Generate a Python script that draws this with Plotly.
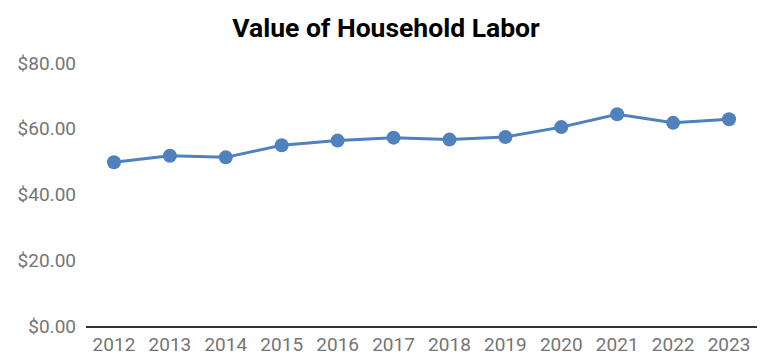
import plotly.graph_objects as go

years = ["2012", "2013", "2014", "2015", "2016", "2017", "2018", "2019", "2020", "2021", "2022", "2023"]
values = [49.8, 51.8, 51.3, 55.0, 56.4, 57.3, 56.7, 57.5, 60.5, 64.4, 61.8, 62.9]
y_ticks = [0, 20, 40, 60, 80]
y_tick_labels = ["$0.00", "$20.00", "$40.00", "$60.00", "$80.00"]

color = "#4f81bd"

fig = go.Figure(
    go.Scatter(
        x=years,
        y=values,
        mode="lines+markers",
        line=dict(color=color, width=3),
        marker=dict(color=color, size=14),
        hoverinfo="skip",
    )
)

fig.update_layout(
    width=763,
    height=362,
    margin=dict(l=86, r=6, t=63, b=36),
    paper_bgcolor="white",
    plot_bgcolor="white",
    showlegend=False,
    title=dict(
        text="<b>Value of Household Labor</b>",
        x=386 / 763,
        xref="container",
        xanchor="center",
        y=1 - 28 / 362,
        yanchor="middle",
        font=dict(family="Roboto", size=26.5, color="#000000"),
    ),
    font=dict(family="Roboto", size=19, color="#757575"),
)

fig.update_xaxes(
    type="category",
    range=[-0.5, len(years) - 0.5],
    showgrid=False,
    showline=True,
    linecolor="#333333",
    linewidth=2,
    ticks="",
    tickfont=dict(family="Roboto", size=19, color="#757575"),
    fixedrange=True,
)

fig.update_yaxes(
    range=[0, 80],
    tickvals=y_ticks,
    ticktext=y_tick_labels,
    showgrid=False,
    zeroline=False,
    showline=False,
    ticks="",
    ticklabelstandoff=9,
    tickfont=dict(family="Roboto", size=19, color="#757575"),
    fixedrange=True,
)

fig.write_html("out.html", config={"displayModeBar": False})
